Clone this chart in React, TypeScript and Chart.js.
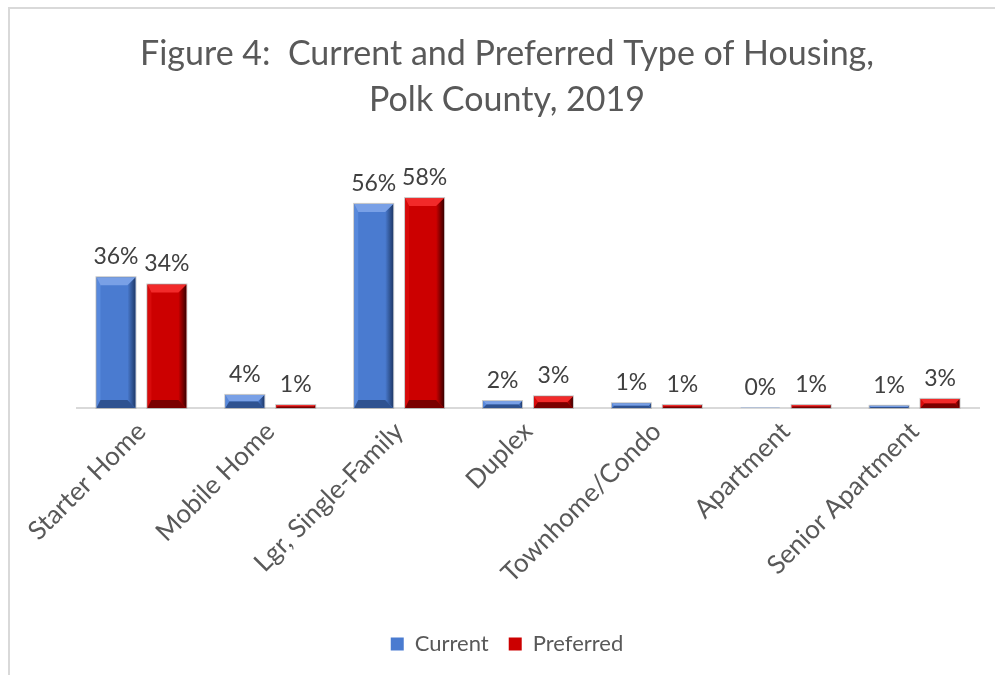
import React, { useEffect, useRef } from "react";
import { Chart, registerables } from "chart.js";

Chart.register(...registerables);

const categories = [
  "Starter Home",
  "Mobile Home",
  "Lgr, Single-Family",
  "Duplex",
  "Townhome/Condo",
  "Apartment",
  "Senior Apartment",
];
const currentValues = [36.0, 3.6, 56.2, 1.9, 1.3, 0.1, 0.6];
const preferredValues = [34.0, 0.8, 57.8, 3.2, 0.8, 0.8, 2.5];
const titleLines = ["Figure 4:  Current and Preferred Type of Housing,", "Polk County, 2019"];
const seriesNames = ["Current", "Preferred"];

const FONT = "Lato, 'Open Sans', sans-serif";

type Pal = { face: string; light: string; left: string; dark: string; bottom: string };
const palettes: Pal[] = [
  { face: "#4a7bd0", light: "#79a0e6", left: "#5889dc", dark: "#1f3a6a", bottom: "#2f5290" },
  { face: "#cc0000", light: "#f22a2a", left: "#d80a0a", dark: "#3c0000", bottom: "#7a0000" },
];

const bevelPlugin = {
  id: "bevel",
  afterDatasetsDraw(chart: any) {
    const ctx = chart.ctx;
    chart.data.datasets.forEach((ds: any, di: number) => {
      const meta = chart.getDatasetMeta(di);
      const pal = palettes[di];
      meta.data.forEach((bar: any) => {
        const p = bar.getProps(["x", "y", "base", "width"], true);
        const L = p.x - p.width / 2;
        const R = p.x + p.width / 2;
        const T = Math.min(p.y, p.base);
        const B = Math.max(p.y, p.base);
        const h = B - T;
        const w = R - L;
        if (h < 0.5) return;
        const b = Math.min(8, h / 2, w / 2);
        const s = Math.min(4, h / 2);
        ctx.save();
        ctx.fillStyle = pal.face;
        ctx.fillRect(L, T, w, h);
        ctx.fillStyle = pal.left;
        ctx.beginPath();
        ctx.moveTo(L, T);
        ctx.lineTo(L + s, T + b);
        ctx.lineTo(L + s, B - b);
        ctx.lineTo(L, B);
        ctx.closePath();
        ctx.fill();
        const g = ctx.createLinearGradient(R - b, 0, R, 0);
        g.addColorStop(0, pal.face);
        g.addColorStop(1, pal.dark);
        ctx.fillStyle = g;
        ctx.beginPath();
        ctx.moveTo(R, T);
        ctx.lineTo(R - b, T + b);
        ctx.lineTo(R - b, B - b);
        ctx.lineTo(R, B);
        ctx.closePath();
        ctx.fill();
        ctx.fillStyle = pal.light;
        ctx.beginPath();
        ctx.moveTo(L, T);
        ctx.lineTo(R, T);
        ctx.lineTo(R - b, T + b);
        ctx.lineTo(L + s, T + b);
        ctx.closePath();
        ctx.fill();
        ctx.fillStyle = pal.bottom;
        ctx.beginPath();
        ctx.moveTo(L, B);
        ctx.lineTo(R, B);
        ctx.lineTo(R - b, B - b);
        ctx.lineTo(L + s, B - b);
        ctx.closePath();
        ctx.fill();
        ctx.strokeStyle = "rgba(160,160,160,0.6)";
        ctx.lineWidth = 1;
        ctx.strokeRect(L - 0.5, T - 0.5, w + 1, h + 1);
        ctx.restore();
      });
    });
  },
};

const labelPlugin = {
  id: "valueLabels",
  afterDatasetsDraw(chart: any) {
    const ctx = chart.ctx;
    ctx.save();
    ctx.font = `23px ${FONT}`;
    ctx.fillStyle = "#404040";
    ctx.textAlign = "center";
    ctx.textBaseline = "bottom";
    chart.data.datasets.forEach((ds: any, di: number) => {
      const meta = chart.getDatasetMeta(di);
      meta.data.forEach((bar: any, i: number) => {
        const v = ds.data[i];
        const p = bar.getProps(["x", "y"], true);
        ctx.fillText(`${Math.round(v)}%`, p.x, p.y - 9);
      });
    });
    ctx.restore();
  },
};

const framePlugin = {
  id: "frame",
  beforeDraw(chart: any) {
    const ctx = chart.ctx;
    ctx.save();
    ctx.fillStyle = "#ffffff";
    ctx.fillRect(0, 0, chart.width, chart.height);
    ctx.strokeStyle = "#d9d9d9";
    ctx.lineWidth = 2;
    ctx.beginPath();
    ctx.moveTo(9, chart.height);
    ctx.lineTo(9, 8);
    ctx.lineTo(chart.width, 8);
    ctx.stroke();
    ctx.restore();
  },
};

export default function App() {
  const ref = useRef<HTMLCanvasElement | null>(null);
  useEffect(() => {
    let chart: any = null;
    let cancelled = false;
    const make = () => {
      if (cancelled || !ref.current) return;
      chart = new Chart(ref.current, {
        type: "bar",
        data: {
          labels: categories,
          datasets: [
            { label: seriesNames[0], data: currentValues, backgroundColor: palettes[0].face, borderWidth: 0 },
            { label: seriesNames[1], data: preferredValues, backgroundColor: palettes[1].face, borderWidth: 0 },
          ],
        },
        options: {
          animation: false,
          responsive: false,
          devicePixelRatio: 1,
          layout: { padding: { left: 35, right: 16, top: 21, bottom: 10 } },
          datasets: { bar: { categoryPercentage: 0.79, barPercentage: 0.765 } },
          scales: {
            x: {
              grid: { display: false, drawTicks: false },
              border: { color: "#d9d9d9", width: 2 },
              ticks: {
                color: "#595959",
                font: { family: FONT, size: 26 },
                minRotation: 45,
                maxRotation: 45,
                padding: 8,
              },
              afterFit: (scale: any) => {
                scale.height = 205;
              },
            },
            y: {
              display: true,
              min: 0,
              max: 70,
              grid: { display: false, drawTicks: false },
              border: { display: false },
              ticks: { display: false },
              afterFit: (scale: any) => {
                scale.width = 42;
              },
            },
          },
          plugins: {
            title: {
              display: true,
              text: titleLines,
              color: "#595959",
              font: { family: FONT, size: 34, weight: "normal", lineHeight: 1.35 },
              padding: { top: 10, bottom: 31 },
            },
            legend: {
              position: "bottom",
              labels: {
                color: "#595959",
                font: { family: FONT, size: 22 },
                boxWidth: 13,
                boxHeight: 13,
                padding: 20,
              },
            },
            tooltip: { enabled: false },
          },
        },
        plugins: [framePlugin, bevelPlugin, labelPlugin],
      });
    };
    const fontsApi = (document as any).fonts;
    if (fontsApi && fontsApi.load) {
      Promise.all([fontsApi.load(`24px Lato`), fontsApi.load(`34px Lato`)])
        .catch(() => null)
        .then(make);
    } else {
      make();
    }
    return () => {
      cancelled = true;
      if (chart) chart.destroy();
    };
  }, []);
  return (
    <div style={{ position: "absolute", left: 0, top: 0, width: 995, height: 675 }}>
      <canvas ref={ref} width={995} height={675} style={{ display: "block" }} />
    </div>
  );
}
